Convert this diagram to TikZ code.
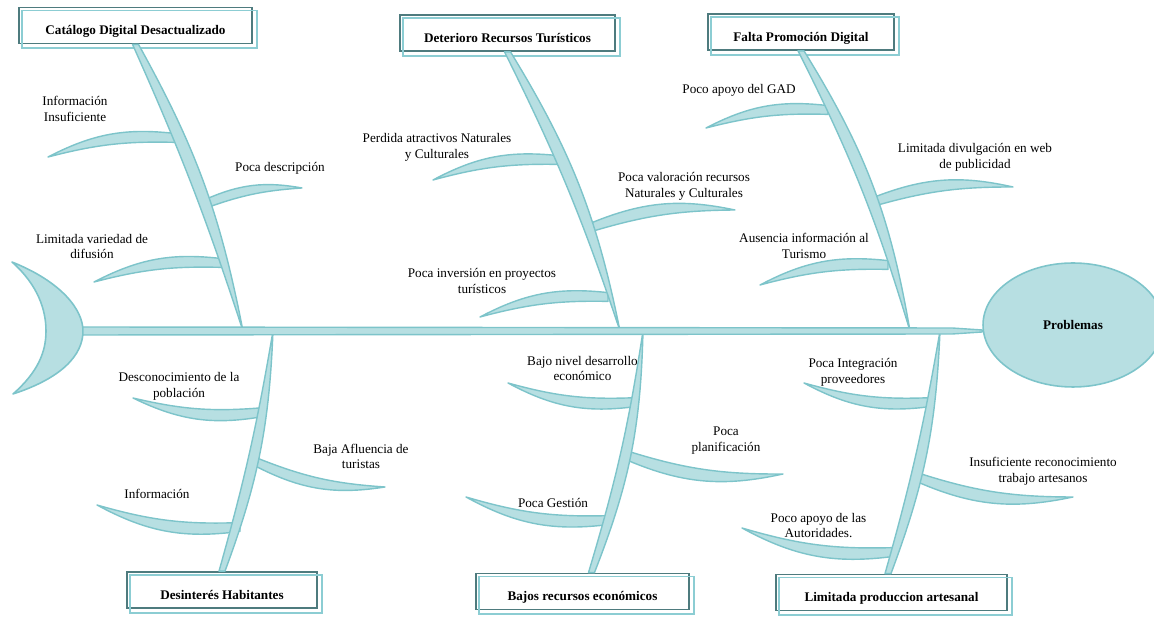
\documentclass[tikz,border=0pt]{standalone}
\usepackage{fontspec}
\setmainfont{Liberation Serif}
\usetikzlibrary{shapes,arrows,positioning,calc}

\definecolor{bonefill}{HTML}{B7DFE2}
\definecolor{boneline}{HTML}{7DC4CA}
\definecolor{boxdark}{HTML}{4E7B7E}
\definecolor{boxlight}{HTML}{8CCDD3}

\begin{document}
\begin{tikzpicture}[x=0.02cm, y=-0.02cm, font=\fontsize{7.5}{9}\selectfont]
    % Define styles
    \tikzstyle{cause} = [rectangle, draw=boxdark, line width=1pt, fill=white, minimum height=0.72cm, text height=2.6ex, text depth=0.25ex, font=\fontsize{7.5}{9}\selectfont\bfseries]
    \tikzstyle{boxframe} = [draw=boxlight, line width=1pt]
    \tikzstyle{subcause} = [align=center, inner sep=1pt]
    \tikzstyle{bone} = [draw=boneline, fill=bonefill, line width=0.8pt, line join=round]

    \useasboundingbox (0,0) rectangle (1154,617);
    \clip (0,0) rectangle (1154,617);

    % Main causes
    \node [cause, minimum width=4.66cm] (catalogo) at (135.5,25.5) {Catálogo Digital Desactualizado};
    \node [cause, minimum width=4.30cm] (deterioro) at (507.5,33) {Deterioro Recursos Turísticos};
    \node [cause, minimum width=3.72cm] (promocion) at (801,32) {Falta Promoción Digital};
    \node [cause, minimum width=3.80cm] (desinteres) at (222,590) {Desinterés Habitantes};
    \node [cause, minimum width=4.26cm] (recursos) at (582.5,591.5) {Bajos recursos económicos};
    \node [cause, minimum width=4.62cm] (artesanal) at (891.5,592.5) {Limitada produccion artesanal};
    \draw [boxframe] ($(catalogo.south west)+(4,4)$) rectangle ($(catalogo.north east)+(4,4)$);
    \draw [boxframe] ($(deterioro.south west)+(4,4)$) rectangle ($(deterioro.north east)+(4,4)$);
    \draw [boxframe] ($(promocion.south west)+(4,4)$) rectangle ($(promocion.north east)+(4,4)$);
    \draw [boxframe] ($(desinteres.south west)+(4,4)$) rectangle ($(desinteres.north east)+(4,4)$);
    \draw [boxframe] ($(recursos.south west)+(4,4)$) rectangle ($(recursos.north east)+(4,4)$);
    \draw [boxframe] ($(artesanal.south west)+(4,4)$) rectangle ($(artesanal.north east)+(4,4)$);

    % Head and tail
    \node [ellipse, draw=boneline, fill=bonefill, line width=0.9pt, minimum width=3.6cm, minimum height=2.48cm, font=\fontsize{7.5}{9}\selectfont\bfseries] (head) at (1073,325) {Problemas};
    \filldraw [bone, line width=0.9pt] (12,262) .. controls (62,282) and (83,310) .. (83,331) .. controls (83,355) and (62,378) .. (13,394) .. controls (38,372) and (46,352) .. (46,331) .. controls (46,310) and (38,285) .. (12,262) -- cycle;
    \coordinate (tail) at (83,331);

    % Junctions on the spine
    \coordinate (j1) at (243,331);
    \coordinate (j2) at (620,331);
    \coordinate (j3) at (910,331);
    \coordinate (j4) at (273,331);
    \coordinate (j5) at (643,331);
    \coordinate (j6) at (940,331);

    % Sub causes
    \node [subcause] (info) at (75,109) {Información\\Insuficiente};
    \node [subcause] (descrip) at (280,168) {Poca descripción};
    \node [subcause] (variedad) at (92,246.5) {Limitada variedad de\\difusión};
    \node [subcause] (perdida) at (437,147.5) {Perdida atractivos Naturales\\y Culturales};
    \node [subcause] (valoracion) at (684,186) {Poca valoración recursos\\Naturales y Culturales};
    \node [subcause] (inversion) at (482,281) {Poca inversión en proyectos\\turísticos};
    \node [subcause] (gad) at (739,90) {Poco apoyo del GAD};
    \node [subcause] (divulgacion) at (975,157.5) {Limitada divulgación en web\\de publicidad};
    \node [subcause] (ausencia) at (804,246) {Ausencia información al\\Turismo};
    \node [subcause] (desconoc) at (179,386) {Desconocimiento de la\\población};
    \node [subcause] (afluencia) at (361,456.5) {Baja Afluencia de\\turistas};
    \node [subcause] (informacion) at (157,494) {Información};
    \node [subcause] (desarrollo) at (582.5,368.5) {Bajo nivel desarrollo\\económico};
    \node [subcause] (planif) at (726,440.5) {Poca\\planificación};
    \node [subcause] (gestion) at (553,503) {Poca Gestión};
    \node [subcause] (integracion) at (853,372) {Poca Integración\\proveedores};
    \node [subcause] (reconoc) at (1043,471) {Insuficiente reconocimiento\\trabajo artesanos};
    \node [subcause] (autoridades) at (818.5,525.5) {Poco apoyo de las\\Autoridades.};

    % Small bones: base on the rib, tip free
    \coordinate (infoB) at (176,138);          \coordinate (infoT) at (48,157);
    \coordinate (descripB) at (205,204);       \coordinate (descripT) at (302,188);
    \coordinate (variedadB) at (222,263);      \coordinate (variedadT) at (94,282);
    \coordinate (perdidaB) at (558,160);       \coordinate (perdidaT) at (433,180);
    \coordinate (valoracionB) at (592,227);    \coordinate (valoracionT) at (735,210);
    \coordinate (inversionB) at (608,297);     \coordinate (inversionT) at (480,317);
    \coordinate (gadB) at (828,110);           \coordinate (gadT) at (706,128);
    \coordinate (divulgacionB) at (873,202);   \coordinate (divulgacionT) at (1013,187);
    \coordinate (ausenciaB) at (888,265);      \coordinate (ausenciaT) at (760,285);
    \coordinate (desconocB) at (264,412);      \coordinate (desconocT) at (133,398);
    \coordinate (afluenciaB) at (256,462);     \coordinate (afluenciaT) at (385,487);
    \coordinate (informacionB) at (240,527);   \coordinate (informacionT) at (97,505);
    \coordinate (desarrolloB) at (637,402);    \coordinate (desarrolloT) at (508,383);
    \coordinate (planifB) at (623,454);        \coordinate (planifT) at (783,474);
    \coordinate (gestionB) at (610,520);       \coordinate (gestionT) at (466,497);
    \coordinate (integracionB) at (932,402);   \coordinate (integracionT) at (804,383);
    \coordinate (reconocB) at (914,476);       \coordinate (reconocT) at (1073,497);
    \coordinate (autoridadesB) at (894,552);   \coordinate (autoridadesT) at (742,528);

    \filldraw [bone] ([yshift=2.5pt]infoB) to[bend right=17] (infoT) to[bend left=8] ([yshift=-2.5pt]infoB) -- cycle;
    \filldraw [bone] ([yshift=2.5pt]descripB) to[bend left=17] (descripT) to[bend right=8] ([yshift=-2.5pt]descripB) -- cycle;
    \filldraw [bone] ([yshift=2.5pt]variedadB) to[bend right=17] (variedadT) to[bend left=8] ([yshift=-2.5pt]variedadB) -- cycle;
    \filldraw [bone] ([yshift=2.5pt]perdidaB) to[bend right=17] (perdidaT) to[bend left=8] ([yshift=-2.5pt]perdidaB) -- cycle;
    \filldraw [bone] ([yshift=2.5pt]valoracionB) to[bend left=17] (valoracionT) to[bend right=8] ([yshift=-2.5pt]valoracionB) -- cycle;
    \filldraw [bone] ([yshift=2.5pt]inversionB) to[bend right=17] (inversionT) to[bend left=8] ([yshift=-2.5pt]inversionB) -- cycle;
    \filldraw [bone] ([yshift=2.5pt]gadB) to[bend right=17] (gadT) to[bend left=8] ([yshift=-2.5pt]gadB) -- cycle;
    \filldraw [bone] ([yshift=2.5pt]divulgacionB) to[bend left=17] (divulgacionT) to[bend right=8] ([yshift=-2.5pt]divulgacionB) -- cycle;
    \filldraw [bone] ([yshift=2.5pt]ausenciaB) to[bend right=17] (ausenciaT) to[bend left=8] ([yshift=-2.5pt]ausenciaB) -- cycle;
    \filldraw [bone] ([yshift=-2.5pt]desconocB) to[bend left=18] (desconocT) to[bend right=9] ([yshift=2.5pt]desconocB) -- cycle;
    \filldraw [bone] ([yshift=-2.5pt]afluenciaB) to[bend right=18] (afluenciaT) to[bend left=9] ([yshift=2.5pt]afluenciaB) -- cycle;
    \filldraw [bone] ([yshift=-2.5pt]informacionB) to[bend left=18] (informacionT) to[bend right=9] ([yshift=2.5pt]informacionB) -- cycle;
    \filldraw [bone] ([yshift=-2.5pt]desarrolloB) to[bend left=18] (desarrolloT) to[bend right=9] ([yshift=2.5pt]desarrolloB) -- cycle;
    \filldraw [bone] ([yshift=-2.5pt]planifB) to[bend right=18] (planifT) to[bend left=9] ([yshift=2.5pt]planifB) -- cycle;
    \filldraw [bone] ([yshift=-2.5pt]gestionB) to[bend left=18] (gestionT) to[bend right=9] ([yshift=2.5pt]gestionB) -- cycle;
    \filldraw [bone] ([yshift=-2.5pt]integracionB) to[bend left=18] (integracionT) to[bend right=9] ([yshift=2.5pt]integracionB) -- cycle;
    \filldraw [bone] ([yshift=-2.5pt]reconocB) to[bend right=18] (reconocT) to[bend left=9] ([yshift=2.5pt]reconocB) -- cycle;
    \filldraw [bone] ([yshift=-2.5pt]autoridadesB) to[bend left=18] (autoridadesT) to[bend right=9] ([yshift=2.5pt]autoridadesB) -- cycle;

    % Main bones
    \filldraw [bone] ([xshift=-1.7pt]catalogo.south) to[bend left=3] (j1) to[bend right=9] ([xshift=1.7pt]catalogo.south) -- cycle;
    \filldraw [bone] ([xshift=-1.7pt]deterioro.south) to[bend left=4] (j2) to[bend right=10] ([xshift=1.7pt]deterioro.south) -- cycle;
    \filldraw [bone] ([xshift=-1.7pt]promocion.south) to[bend left=5] (j3) to[bend right=11] ([xshift=1.7pt]promocion.south) -- cycle;
    \filldraw [bone] ([xshift=-1.7pt]desinteres.north) to[bend right=3] (j4) to[bend left=9] ([xshift=1.7pt]desinteres.north) -- cycle;
    \filldraw [bone] ([xshift=3.4pt]recursos.north) to[bend right=4] (j5) to[bend left=10] ([xshift=6.8pt]recursos.north) -- cycle;
    \filldraw [bone] ([xshift=-3.7pt]artesanal.north) to[bend right=3] (j6) to[bend left=9] ([xshift=-0.3pt]artesanal.north) -- cycle;

    % Spine
    \filldraw [bone] ($(tail)+(0,-4)$) -- ($(head.west |- tail)+(-30,-3)$) -- ($(head.west |- tail)+(0,-1)$) -- ($(head.west |- tail)+(0,1)$) -- ($(head.west |- tail)+(-30,3)$) -- ($(tail)+(0,4)$) -- cycle;
\end{tikzpicture}
\end{document}
